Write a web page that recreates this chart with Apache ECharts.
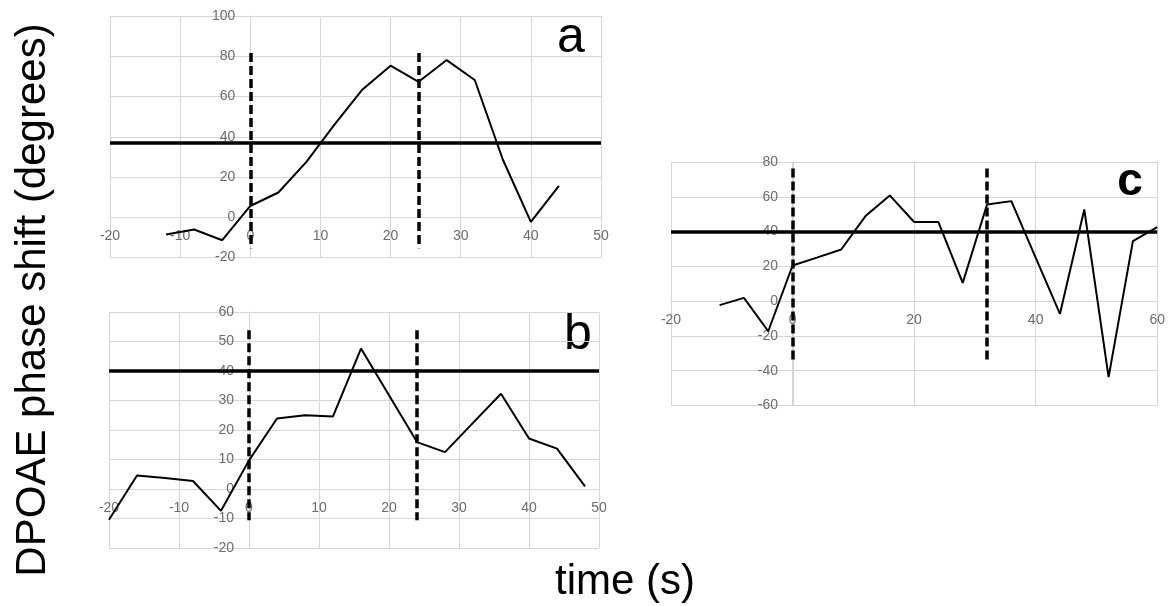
<!DOCTYPE html>
<html>
<head>
<meta charset="utf-8">
<script src="https://cdn.jsdelivr.net/npm/echarts@6/dist/echarts.min.js"></script>
<style>html,body{margin:0;padding:0;background:#fff}#main{width:1168px;height:606px}</style>
</head>
<body>
<div id="main"></div>
<script>
// panel a
var timeA = [-12, -8, -4, 0, 4, 8, 12, 16, 20, 24, 28, 32, 36, 40, 44];
var phaseA = [-8.6, -6.1, -11.4, 5.6, 12.3, 27.5, 46, 63.5, 75.3, 67.3, 78.1, 68.2, 28.7, -2.3, 15.6];
// panel b
var timeB = [-20, -16, -12, -8, -4, 0, 4, 8, 12, 16, 20, 24, 28, 32, 36, 40, 44, 48];
var phaseB = [-10.4, 4.6, 3.7, 2.7, -7.4, 9.7, 23.9, 25.0, 24.6, 47.6, 31.8, 15.9, 12.5, 22.4, 32.3, 17.1, 13.7, 0.9];
// panel c
var timeC = [-12, -8, -4, 0, 4, 8, 12, 16, 20, 24, 28, 32, 36, 40, 44, 48, 52, 56, 60];
var phaseC = [-2.3, 1.9, -17.3, 20.5, 25, 29.7, 48.9, 60.8, 45.5, 45.5, 10.5, 55.6, 57.5, 25, -7.3, 52.7, -43.7, 34.5, 42.6];

// axis ticks [min, max, step]
var xTicksA = [-20, 50, 10], yTicksA = [-20, 100, 20];
var xTicksB = [-20, 50, 10], yTicksB = [-20, 60, 10];
var xTicksC = [-20, 60, 20], yTicksC = [-60, 80, 20];

// reference level and stimulus on/off markers
var levelA = 37, levelB = 40, levelC = 40;
var marksA = [0, 24], marksB = [0, 24], marksC = [0, 32];
var spanA = [-15.4, 81.6], spanB = [-10.6, 53.8], spanC = [-35.5, 76.2];

var grids = [
    { left: 110, top: 16, width: 491, height: 241.5 },
    { left: 109, top: 312, width: 490, height: 236 },
    { left: 671, top: 162, width: 488, height: 243.5 }
];

var labelFont = 'Liberation Sans, Arial, sans-serif';
var gridColor = '#d6d6d6';
var tickColor = '#6c6c6c';

// axes cross at zero: shift each axis from the grid edge to the other axis' zero
function xAxisFor(idx, t, ty) {
    var shift = (0 - ty[0]) / (ty[1] - ty[0]) * grids[idx].height;
    return {
        type: 'value', gridIndex: idx, min: t[0], max: t[1], interval: t[2],
        position: 'bottom', offset: -shift,
        axisLine: { show: true, onZero: false, lineStyle: { color: gridColor, width: 1 } },
        axisTick: { show: false },
        splitLine: { show: true, lineStyle: { color: gridColor, width: 1 } },
        axisLabel: { color: tickColor, fontSize: 14, fontFamily: labelFont, margin: 12, showMinLabel: true, showMaxLabel: true }
    };
}
function yAxisFor(idx, t, tx) {
    var shift = (0 - tx[0]) / (tx[1] - tx[0]) * grids[idx].width;
    return {
        type: 'value', gridIndex: idx, min: t[0], max: t[1], interval: t[2],
        position: 'left', offset: -shift,
        axisLine: { show: true, onZero: false, lineStyle: { color: gridColor, width: 1 } },
        axisTick: { show: false },
        splitLine: { show: true, lineStyle: { color: gridColor, width: 1 } },
        axisLabel: { color: tickColor, fontSize: 14, fontFamily: labelFont, margin: 15, showMinLabel: true, showMaxLabel: true }
    };
}
function seriesFor(idx, xs, ys, level, marks, span) {
    var lines = [{ yAxis: level, lineStyle: { type: 'solid', width: 3.5, color: '#000' } }];
    marks.forEach(function (m) {
        lines.push([
            { coord: [m, span[1]], lineStyle: { type: [9, 4], width: 3.5, color: '#000' } },
            { coord: [m, span[0]] }
        ]);
    });
    return {
        type: 'line', xAxisIndex: idx, yAxisIndex: idx,
        data: xs.map(function (x, i) { return [x, ys[i]]; }),
        showSymbol: false, symbol: 'none',
        lineStyle: { color: '#000', width: 2 },
        z: 3,
        markLine: { silent: true, symbol: 'none', label: { show: false }, data: lines, animation: false }
    };
}

var myChart = echarts.init(document.getElementById('main'));

var bigFont = 'Liberation Sans, Arial, sans-serif';
function bigText(x, y, text, font, rot) {
    return { type: 'text', x: x, y: y, rotation: rot || 0,
        style: { text: text, font: font, fill: '#000',
                 textAlign: 'center', textVerticalAlign: 'middle', align: 'center', verticalAlign: 'middle' } };
}

var option = {
    animation: false,
    backgroundColor: '#fff',
    grid: grids,
    xAxis: [xAxisFor(0, xTicksA, yTicksA), xAxisFor(1, xTicksB, yTicksB), xAxisFor(2, xTicksC, yTicksC)],
    yAxis: [yAxisFor(0, yTicksA, xTicksA), yAxisFor(1, yTicksB, xTicksB), yAxisFor(2, yTicksC, xTicksC)],
    series: [
        seriesFor(0, timeA, phaseA, levelA, marksA, spanA),
        seriesFor(1, timeB, phaseB, levelB, marksB, spanB),
        seriesFor(2, timeC, phaseC, levelC, marksC, spanC)
    ],
    graphic: [
        bigText(33, 300, 'DPOAE phase shift (degrees)', '42px ' + bigFont, Math.PI / 2),
        bigText(625, 582, 'time (s)', '42px ' + bigFont),
        bigText(571, 38, 'a', '50px ' + bigFont),
        bigText(578, 335, 'b', '50px ' + bigFont),
        bigText(1130, 182, 'c', 'bold 46px ' + bigFont)
    ]
};

myChart.setOption(option);
window.onresize = function () {
    myChart.resize();
};
</script>
</body>
</html>
